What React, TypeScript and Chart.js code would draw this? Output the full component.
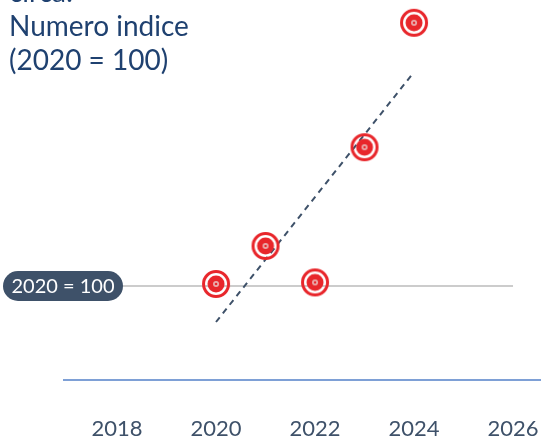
import React, { useEffect, useRef } from "react";
import { Chart, registerables } from "chart.js";

Chart.register(...registerables);

const titleLines = ["circa:", "Numero indice", "(2020 = 100)"];
const years = [2020, 2021, 2022, 2023, 2024];
const indexValues = [100.5, 110, 100.9, 134.7, 165.8];
const trendYears = [2020, 2024];
const trendValues = [91, 153.5];
const baseValue = 100;
const baseLabel = "2020 = 100";
const tickYears = [2018, 2020, 2022, 2024, 2026];

const FONT = "Lato, 'Open Sans', sans-serif";

function makeTarget(): HTMLCanvasElement {
  const c = document.createElement("canvas");
  c.width = 30;
  c.height = 30;
  const g = c.getContext("2d")!;
  const cx = 15, cy = 15;
  g.strokeStyle = "#e8262b";
  g.lineWidth = 3;
  g.beginPath();
  g.arc(cx, cy, 12.5, 0, Math.PI * 2);
  g.stroke();
  g.fillStyle = "#e8262b";
  g.beginPath();
  g.arc(cx, cy, 8.5, 0, Math.PI * 2);
  g.fill();
  g.fillStyle = "#eab0b0";
  g.beginPath();
  g.arc(cx, cy, 3, 0, Math.PI * 2);
  g.fill();
  g.fillStyle = "#e8262b";
  g.beginPath();
  g.arc(cx, cy, 1.3, 0, Math.PI * 2);
  g.fill();
  return c;
}

export default function App() {
  const ref = useRef<HTMLCanvasElement | null>(null);
  useEffect(() => {
    if (!ref.current) return;
    const target = makeTarget();
    const xMin = 2016.929;
    const xMax = 2026.565;

    const overlay = {
      id: "overlay",
      afterDatasetsDraw(chart: any) {
        const ctx = chart.ctx;
        const y = chart.scales.y.getPixelForValue(baseValue);
        ctx.save();
        const x0 = 3, w = 120, h = 30;
        const r = h / 2;
        ctx.fillStyle = "#3e5169";
        ctx.beginPath();
        ctx.moveTo(x0 + r, y - r);
        ctx.lineTo(x0 + w - r, y - r);
        ctx.arc(x0 + w - r, y, r, -Math.PI / 2, Math.PI / 2);
        ctx.lineTo(x0 + r, y + r);
        ctx.arc(x0 + r, y, r, Math.PI / 2, Math.PI * 1.5);
        ctx.closePath();
        ctx.fill();
        ctx.fillStyle = "#ffffff";
        ctx.font = `20px ${FONT}`;
        ctx.textAlign = "center";
        ctx.textBaseline = "middle";
        ctx.fillText(baseLabel, x0 + w / 2, y + 1);
        ctx.fillStyle = "#1f4170";
        ctx.font = `28px ${FONT}`;
        ctx.textAlign = "left";
        ctx.textBaseline = "alphabetic";
        titleLines.forEach((t, i) => {
          ctx.fillText(t, 9, 2 + i * 34);
        });
        ctx.restore();
      },
    };

    const chart = new Chart(ref.current, {
      type: "scatter",
      data: {
        datasets: [
          {
            data: years.map((x, i) => ({ x, y: indexValues[i] })),
            pointStyle: target as any,
            pointRadius: 15,
            showLine: false,
            clip: false as any,
          },
          {
            data: trendYears.map((x, i) => ({ x, y: trendValues[i] })),
            showLine: true,
            borderColor: "#3e5169",
            borderWidth: 2,
            borderDash: [6, 5],
            pointRadius: 0,
          },
          {
            data: [
              { x: xMin, y: baseValue },
              { x: 2026, y: baseValue },
            ],
            showLine: true,
            borderColor: "#cccccc",
            borderWidth: 2,
            pointRadius: 0,
          },
        ],
      },
      options: {
        animation: false,
        responsive: false,
        maintainAspectRatio: false,
        devicePixelRatio: 1,
        layout: { autoPadding: false, padding: { left: 64, right: 0, top: 0, bottom: 0 } },
        plugins: { legend: { display: false }, tooltip: { enabled: false } },
        scales: {
          x: {
            type: "linear",
            min: xMin,
            max: xMax,
            afterBuildTicks(axis: any) {
              axis.ticks = tickYears.map((v) => ({ value: v }));
            },
            afterFit(axis: any) {
              axis.height = 61;
              axis.paddingLeft = 0;
              axis.paddingRight = 0;
            },
            grid: { display: false, drawTicks: false },
            border: { display: true, color: "#7ea0d6", width: 2 },
            ticks: {
              padding: 36,
              color: "#3e5169",
              font: { family: FONT, size: 22 },
              callback: (v: any) => String(v),
              maxRotation: 0,
              autoSkip: false,
            },
          },
          y: {
            display: false,
            min: 76.5,
            max: 171.5,
          },
        },
      },
      plugins: [overlay],
    });
    return () => chart.destroy();
  }, []);
  return (
    <div style={{ position: "fixed", left: 0, top: 0, width: 541, height: 441 }}>
      <canvas ref={ref} width={541} height={441} style={{ width: 541, height: 441 }} />
    </div>
  );
}
